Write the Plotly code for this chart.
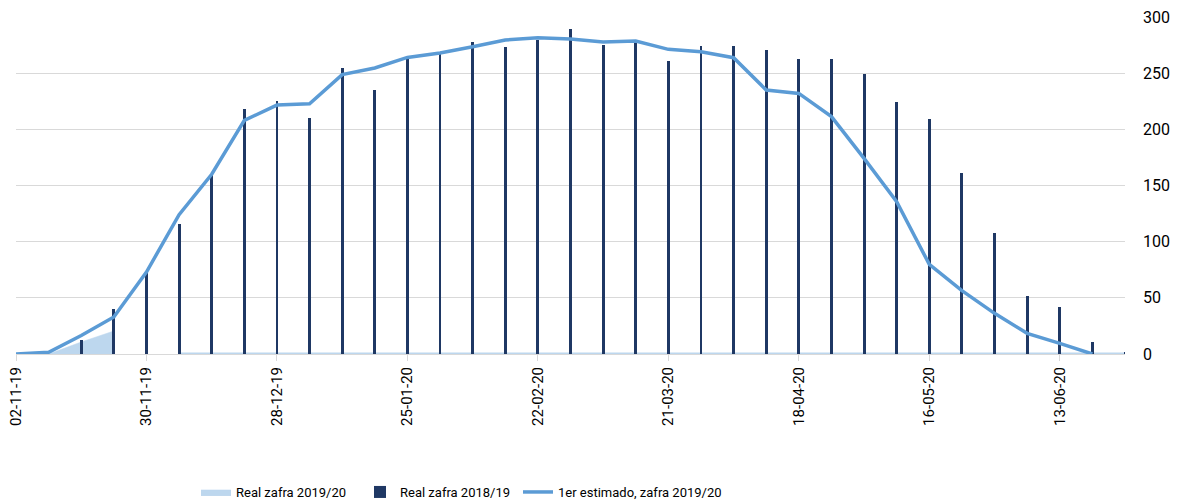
import pandas as pd
import plotly.graph_objects as go

# Weekly categories (Saturday dates)
dates = list(pd.date_range("2019-11-02", periods=35, freq="7D"))

real_2019_20 = [0, 0, 10.7, 20.5, None] + [0] * 30
real_2018_19 = [None, None, 12.5, 39.8, 72, 116, 159, 218, 225, 210.4, 255, 235,
                263, 266.8, 277.5, 273, 279.5, 289, 275, 277, 260.8, 274, 274,
                271, 263, 263, 249.3, 224.6, 209, 160.9, 108, 51.6, 41.6, 10.4, 1]
estimado_2019_20 = [0, 1.5, 16.5, 33, 73, 124, 160, 208, 221.6, 222.8, 248.7,
                    254.6, 264, 268, 273.6, 279.5, 281.6, 280.4, 277.8, 278.6,
                    271.2, 269.1, 263.8, 235, 232, 211.3, 174.2, 135.6, 79.8,
                    56.4, 36.2, 18.4, 9.5, 0, None]

tick_dates = dates[::4]
tick_text = [d.strftime("%d-%m-%y") for d in tick_dates]
y_ticks = [0, 50, 100, 150, 200, 250, 300]

FONT = "Roboto"
C_AREA = "#BDD7EE"
C_BAR = "#1F3864"
C_LINE = "#5B9BD5"

# split the 2019/20 series where it has a gap
gap = real_2019_20.index(None)

fig = go.Figure()
fig.add_trace(go.Scatter(
    x=dates[:gap], y=real_2019_20[:gap], name="Real zafra 2019/20",
    mode="lines", fill="tozeroy", fillcolor=C_AREA,
    line=dict(color=C_AREA, width=0.5),
    xaxis="x", yaxis="y", legendgroup="a", legend="legend",
))
fig.add_trace(go.Scatter(
    x=dates[gap + 1:], y=real_2019_20[gap + 1:], name="Real zafra 2019/20",
    mode="lines", line=dict(color=C_AREA, width=3),
    xaxis="x", yaxis="y", showlegend=False, legendgroup="a",
))
fig.add_trace(go.Bar(
    x=dates, y=real_2018_19, name="Real zafra 2018/19",
    marker=dict(color=C_BAR, line=dict(width=0)),
    width=[0.62 * 86400000] * len(dates),
    xaxis="x2", yaxis="y2", legend="legend2",
))
fig.add_trace(go.Scatter(
    x=dates, y=estimado_2019_20, name="1er estimado, zafra 2019/20",
    mode="lines", line=dict(color=C_LINE, width=3.5),
    xaxis="x2", yaxis="y2", legend="legend3",
))

PLOT_L, PLOT_W = 16, 1109


def lx(px):
    return (px - PLOT_L) / PLOT_W


leg_common = dict(orientation="h", xanchor="left", y=-0.365, yanchor="top",
                  font=dict(size=13, family=FONT, color="#000000"),
                  itemwidth=30, bgcolor="rgba(0,0,0,0)")

xr = [dates[0], dates[-1]]
fig.update_layout(
    width=1179, height=504,
    margin=dict(l=16, r=54, t=17, b=150, autoexpand=False),
    paper_bgcolor="white", plot_bgcolor="white",
    font=dict(family=FONT, color="#000000"),
    showlegend=True,
    legend=dict(x=lx(196), **leg_common),
    legend2=dict(x=lx(360), **leg_common),
    legend3=dict(x=lx(518), **leg_common),
    xaxis=dict(type="date", range=xr, tickvals=tick_dates, ticktext=tick_text,
               tickangle=-90, tickfont=dict(size=15), showgrid=False,
               ticks="outside", ticklen=6, tickcolor="#D9D9D9",
               showline=True, linecolor="#D9D9D9", linewidth=1, zeroline=False,
               automargin=False),
    yaxis=dict(range=[0, 300], tickvals=y_ticks, side="right",
               showgrid=True, gridcolor="#D9D9D9", gridwidth=1,
               zeroline=False, tickfont=dict(size=16), ticklabelstandoff=17,
               automargin=False),
    xaxis2=dict(type="date", range=xr, overlaying="x", visible=False),
    yaxis2=dict(range=[0, 300], overlaying="y", visible=False),
    bargap=0,
)

fig.write_html("out.html",
               config={"displayModeBar": False},
               post_script="document.body.style.margin='0';"
                           "document.body.style.overflow='hidden';")
